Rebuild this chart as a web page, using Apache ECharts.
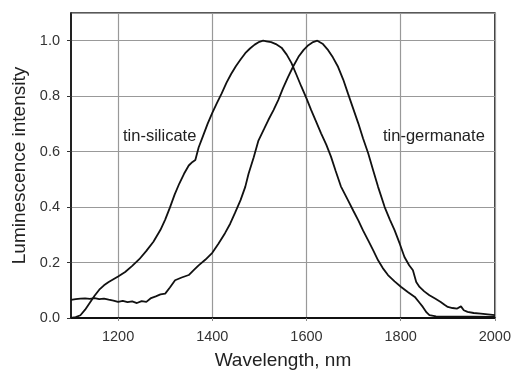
<!DOCTYPE html>
<html>
<head>
<meta charset="utf-8">
<script src="https://cdn.jsdelivr.net/npm/echarts@6/dist/echarts.min.js"></script>
<style>
  html, body { margin: 0; padding: 0; background: #fff; }
  #chart { width: 514px; height: 376px; }
</style>
</head>
<body>
<div id="chart"></div>
<script>
// Emission spectra, [wavelength nm, normalised intensity]
const silicate = [
  [1100, 0.000], [1110, 0.003], [1120, 0.010], [1130, 0.030], [1140, 0.055],
  [1150, 0.080], [1160, 0.102], [1170, 0.118], [1180, 0.130], [1190, 0.140],
  [1200, 0.150], [1215, 0.166], [1230, 0.188], [1245, 0.212], [1260, 0.242],
  [1275, 0.275], [1290, 0.318], [1300, 0.355], [1310, 0.398], [1320, 0.445],
  [1330, 0.485], [1340, 0.520], [1350, 0.550], [1358, 0.563], [1364, 0.570],
  [1371, 0.615], [1380, 0.655], [1390, 0.700], [1400, 0.740], [1410, 0.776],
  [1420, 0.810], [1430, 0.848], [1440, 0.880], [1450, 0.908], [1460, 0.932],
  [1470, 0.955], [1480, 0.972], [1490, 0.986], [1500, 0.996], [1508, 1.000],
  [1515, 0.998], [1525, 0.995], [1535, 0.988], [1547, 0.975], [1558, 0.950],
  [1568, 0.920], [1578, 0.880], [1589, 0.835], [1600, 0.792], [1610, 0.750],
  [1620, 0.710], [1631, 0.666], [1642, 0.625], [1652, 0.582], [1662, 0.530],
  [1673, 0.475], [1688, 0.425], [1700, 0.385], [1710, 0.352], [1720, 0.316],
  [1731, 0.280], [1742, 0.243], [1752, 0.208], [1762, 0.180], [1773, 0.155],
  [1787, 0.132], [1801, 0.112], [1815, 0.094], [1830, 0.076], [1840, 0.055],
  [1847, 0.040], [1855, 0.020], [1861, 0.010], [1875, 0.006], [1900, 0.005],
  [1950, 0.005], [2000, 0.004]
];

const germanate = [
  [1100, 0.065], [1110, 0.068], [1120, 0.070], [1130, 0.071], [1140, 0.069],
  [1150, 0.072], [1160, 0.068], [1170, 0.070], [1180, 0.066], [1190, 0.063],
  [1200, 0.058], [1210, 0.062], [1220, 0.057], [1230, 0.060], [1240, 0.054],
  [1250, 0.061], [1260, 0.058], [1270, 0.072], [1280, 0.078], [1290, 0.085],
  [1300, 0.088], [1310, 0.110], [1321, 0.136], [1335, 0.146], [1350, 0.155],
  [1360, 0.172], [1371, 0.190], [1385, 0.210], [1400, 0.235], [1413, 0.268],
  [1427, 0.306], [1438, 0.340], [1448, 0.378], [1460, 0.425], [1470, 0.473],
  [1477, 0.520], [1488, 0.580], [1498, 0.640], [1510, 0.682], [1519, 0.714],
  [1530, 0.750], [1540, 0.786], [1550, 0.828], [1561, 0.870], [1572, 0.908],
  [1583, 0.942], [1594, 0.967], [1604, 0.984], [1614, 0.995], [1623, 1.000],
  [1635, 0.988], [1646, 0.966], [1656, 0.940], [1667, 0.906], [1678, 0.860],
  [1688, 0.810], [1699, 0.756], [1710, 0.702], [1720, 0.648], [1731, 0.594],
  [1742, 0.530], [1752, 0.473], [1766, 0.400], [1777, 0.355], [1787, 0.317],
  [1798, 0.268], [1808, 0.220], [1818, 0.190], [1826, 0.172], [1833, 0.130],
  [1840, 0.112], [1850, 0.096], [1861, 0.082], [1873, 0.070], [1885, 0.058],
  [1893, 0.048], [1900, 0.040], [1910, 0.036], [1920, 0.034], [1928, 0.042],
  [1934, 0.028], [1942, 0.022], [1955, 0.018], [1970, 0.016], [1985, 0.013],
  [2000, 0.010]
];

const xTicks = [1200, 1400, 1600, 1800, 2000];
const seriesNames = ['tin-silicate', 'tin-germanate'];

const font = 'Liberation Sans, Arial, sans-serif';
const chart = echarts.init(document.getElementById('chart'), null, { renderer: 'canvas' });

chart.setOption({
  animation: false,
  backgroundColor: '#fff',
  grid: {
    left: 71, right: 17, top: 13, bottom: 58,
    show: true, borderColor: '#222', borderWidth: 1.5,
    containLabel: false
  },
  xAxis: {
    type: 'value',
    min: 1100, max: 2000,
    name: 'Wavelength, nm',
    nameLocation: 'middle',
    nameGap: 33,
    nameTextStyle: { fontFamily: font, fontSize: 19, color: '#222' },
    axisLine: { show: true, onZero: false, lineStyle: { color: '#111', width: 2 } },
    axisTick: { show: true, length: 3, inside: false, customValues: xTicks, lineStyle: { color: '#888' } },
    axisLabel: {
      customValues: xTicks, fontFamily: font, fontSize: 14.5, color: '#333', margin: 11,
      formatter: v => String(v)
    },
    splitLine: { show: true, lineStyle: { color: '#999', width: 1.2 } }
  },
  yAxis: {
    type: 'value',
    min: 0, max: 1.1, interval: 0.2,
    name: 'Luminescence intensity',
    nameLocation: 'middle',
    nameGap: 41,
    nameTextStyle: { fontFamily: font, fontSize: 19, color: '#222' },
    axisLine: { show: true, lineStyle: { color: '#111', width: 1.5 } },
    axisTick: { show: true, length: 4, lineStyle: { color: '#333' } },
    axisLabel: {
      fontFamily: font, fontSize: 14.5, color: '#333', margin: 11,
      showMaxLabel: false,
      formatter: v => v.toFixed(1)
    },
    splitLine: { show: true, lineStyle: { color: '#999', width: 1.2 } }
  },
  series: [
    {
      name: seriesNames[0], type: 'line', data: silicate,
      showSymbol: false, smooth: false,
      lineStyle: { color: '#111', width: 1.8 }
    },
    {
      name: seriesNames[1], type: 'line', data: germanate,
      showSymbol: false, smooth: false,
      lineStyle: { color: '#111', width: 1.8 }
    }
  ],
  graphic: [
    {
      type: 'text', left: 123, top: 128,
      style: { text: seriesNames[0], font: '16.5px ' + font, fill: '#222' }
    },
    {
      type: 'text', left: 383, top: 128,
      style: { text: seriesNames[1], font: '16.5px ' + font, fill: '#222' }
    }
  ]
});
</script>
</body>
</html>
